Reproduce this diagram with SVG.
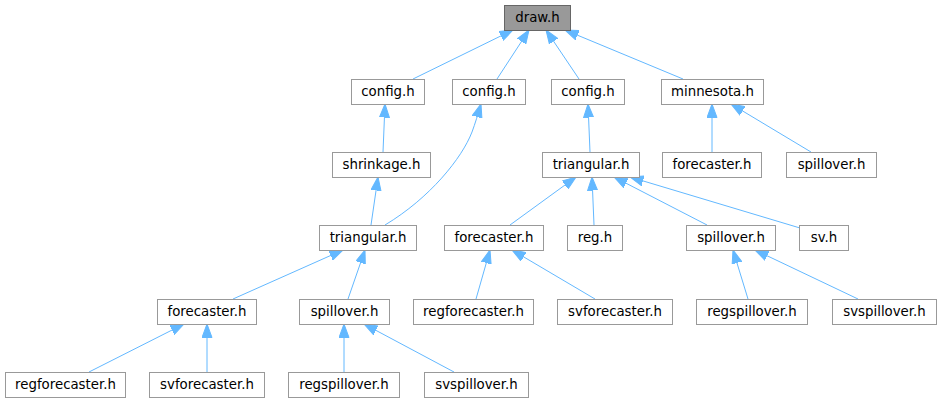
<svg xmlns="http://www.w3.org/2000/svg" width="941" height="403" viewBox="0 0 941 403">
<style>
.node rect{fill:#ffffff;stroke:#999999;stroke-width:1}
#n_draw rect{fill:#999999;stroke:#666666}
.node text{font-family:"DejaVu Sans","Liberation Sans",sans-serif;font-size:13.33px;fill:#000000;text-anchor:middle}
.edges path{fill:none;stroke:#63b8ff;stroke-width:1;marker-end:url(#arr)}
</style>
<defs>
<marker id="arr" markerUnits="userSpaceOnUse" markerWidth="14" markerHeight="11" refX="13.5" refY="5.5" orient="auto" viewBox="0 0 14 11">
<path d="M0,0.5 L13.5,5.5 L0,10.5 Z" fill="#63b8ff" stroke="#63b8ff" stroke-width="1"/>
</marker>
</defs>
<rect width="941" height="403" fill="#ffffff"/>
<g class="edges">
<path d="M413,79 L513,30"/>
<path d="M497,79 L529,30"/>
<path d="M579,79 L546,30"/>
<path d="M683,79 L565,30"/>
<path d="M383,152 L385,104"/>
<path d="M371,225 L378,177"/>
<path d="M385,225 C430,198 462,158 472,132 C475,124 478,114 481,104"/>
<path d="M233,299 L343,250"/>
<path d="M348,299 L365,250"/>
<path d="M89,372 L184,324"/>
<path d="M207,372 L207,324"/>
<path d="M344,372 L344,324"/>
<path d="M454,372 L364,324"/>
<path d="M590,152 L588,104"/>
<path d="M510,225 L576,177"/>
<path d="M594,225 L592,177"/>
<path d="M707,225 L614,177"/>
<path d="M800,228 L630,177"/>
<path d="M476,299 L490,250"/>
<path d="M595,299 L512,250"/>
<path d="M748,299 L733,250"/>
<path d="M858,299 L755,250"/>
<path d="M712,152 L712,104"/>
<path d="M811,152 L731,104"/>
</g>
<g id="n_draw" class="node"><rect x="504.5" y="5.5" width="66" height="25"/><text x="537.5" y="22">draw.h</text></g>
<g id="n_config1" class="node"><rect x="351.5" y="79.5" width="73" height="25"/><text x="388" y="96">config.h</text></g>
<g id="n_config2" class="node"><rect x="452.5" y="79.5" width="73" height="25"/><text x="489" y="96">config.h</text></g>
<g id="n_config3" class="node"><rect x="551.5" y="79.5" width="73" height="25"/><text x="588" y="96">config.h</text></g>
<g id="n_minnesota" class="node"><rect x="661.5" y="79.5" width="102" height="25"/><text x="712.5" y="96">minnesota.h</text></g>
<g id="n_shrinkage" class="node"><rect x="332.5" y="152.5" width="98" height="25"/><text x="381.5" y="169">shrinkage.h</text></g>
<g id="n_triangular2" class="node"><rect x="542.5" y="152.5" width="97" height="25"/><text x="591" y="169">triangular.h</text></g>
<g id="n_mforecaster" class="node"><rect x="662.5" y="152.5" width="99" height="25"/><text x="712" y="169">forecaster.h</text></g>
<g id="n_mspillover" class="node"><rect x="786.5" y="152.5" width="90" height="25"/><text x="831.5" y="169">spillover.h</text></g>
<g id="n_triangular1" class="node"><rect x="319.5" y="225.5" width="97" height="25"/><text x="368" y="242">triangular.h</text></g>
<g id="n_forecaster2" class="node"><rect x="444.5" y="225.5" width="99" height="25"/><text x="494" y="242">forecaster.h</text></g>
<g id="n_reg" class="node"><rect x="567.5" y="225.5" width="55" height="25"/><text x="595" y="242">reg.h</text></g>
<g id="n_spillover2" class="node"><rect x="686.5" y="225.5" width="89" height="25"/><text x="731" y="242">spillover.h</text></g>
<g id="n_sv" class="node"><rect x="799.5" y="225.5" width="49" height="25"/><text x="824" y="242">sv.h</text></g>
<g id="n_forecaster1" class="node"><rect x="157.5" y="299.5" width="99" height="25"/><text x="207" y="316">forecaster.h</text></g>
<g id="n_spillover1" class="node"><rect x="299.5" y="299.5" width="90" height="25"/><text x="344.5" y="316">spillover.h</text></g>
<g id="n_regforecaster2" class="node"><rect x="413.5" y="299.5" width="120" height="25"/><text x="473.5" y="316">regforecaster.h</text></g>
<g id="n_svforecaster2" class="node"><rect x="557.5" y="299.5" width="115" height="25"/><text x="615" y="316">svforecaster.h</text></g>
<g id="n_regspillover2" class="node"><rect x="696.5" y="299.5" width="111" height="25"/><text x="752" y="316">regspillover.h</text></g>
<g id="n_svspillover2" class="node"><rect x="832.5" y="299.5" width="104" height="25"/><text x="884.5" y="316">svspillover.h</text></g>
<g id="n_regforecaster1" class="node"><rect x="5.5" y="372.5" width="120" height="25"/><text x="65.5" y="389">regforecaster.h</text></g>
<g id="n_svforecaster1" class="node"><rect x="149.5" y="372.5" width="115" height="25"/><text x="207" y="389">svforecaster.h</text></g>
<g id="n_regspillover1" class="node"><rect x="288.5" y="372.5" width="111" height="25"/><text x="344" y="389">regspillover.h</text></g>
<g id="n_svspillover1" class="node"><rect x="424.5" y="372.5" width="104" height="25"/><text x="476.5" y="389">svspillover.h</text></g>
</svg>
